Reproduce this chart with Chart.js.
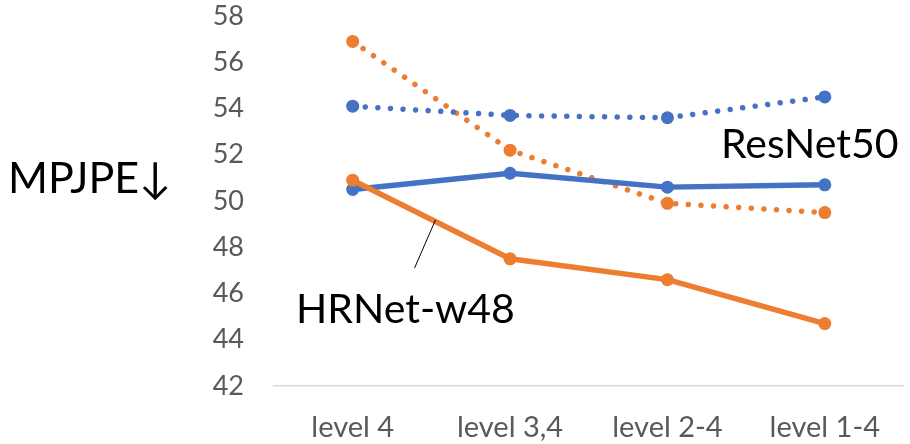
<!DOCTYPE html>
<html>
<head>
<meta charset="utf-8">
<script src="https://cdn.jsdelivr.net/npm/chart.js@4"></script>
<style>
  html, body { margin: 0; padding: 0; background: #fff; }
  #wrap { width: 910px; height: 444px; position: relative; }
</style>
</head>
<body>
<div id="wrap"><canvas id="c" width="910" height="444"></canvas></div>
<script>
// Feature levels used, and MPJPE per backbone (solid and dotted variants)
const categories = ['level 4', 'level 3,4', 'level 2-4', 'level 1-4'];
const resnetDotted = [54.1, 53.7, 53.6, 54.5];
const resnetSolid  = [50.5, 51.2, 50.6, 50.7];
const hrnetDotted  = [56.9, 52.2, 49.9, 49.5];
const hrnetSolid   = [50.9, 47.5, 46.6, 44.7];
const yTicks = [42, 44, 46, 48, 50, 52, 54, 56, 58];

const BLUE = '#4472C4';
const ORANGE = '#ED7D31';
const FONT = 'Lato, "Open Sans", "DejaVu Sans", sans-serif';

function lineSet(label, data, color, dotted, order) {
  return {
    label, data, order,
    borderColor: color,
    backgroundColor: color,
    borderWidth: dotted ? 5.5 : 5.5,
    borderDash: dotted ? [0.01, 12.6] : [],
    borderCapStyle: 'round',
    borderJoinStyle: 'round',
    pointRadius: 6.5,
    pointHoverRadius: 6.5,
    pointBorderWidth: 0,
    pointBackgroundColor: color,
    tension: 0,
    fill: false
  };
}

// Text labels and the leader line, placed in data coordinates
const annotations = {
  id: 'annotations',
  afterDatasetsDraw(chart) {
    const { ctx, scales: { x, y } } = chart;
    const px = v => x.getPixelForValue(0) + v * (x.getPixelForValue(1) - x.getPixelForValue(0));
    ctx.save();
    ctx.fillStyle = '#000';
    ctx.textBaseline = 'alphabetic';
    ctx.textAlign = 'left';
    ctx.font = '41px ' + FONT;
    ctx.fillText('ResNet50', px(2.34), y.getPixelForValue(51.86));
    ctx.fillText('HRNet-w48', px(-0.36), y.getPixelForValue(44.72));
    ctx.font = '43px ' + FONT;
    ctx.fillText('MPJPE\u2193', 8, y.getPixelForValue(50.35));
    ctx.strokeStyle = '#000';
    ctx.lineWidth = 1;
    ctx.beginPath();
    ctx.moveTo(px(0.526), y.getPixelForValue(49.18));
    ctx.lineTo(px(0.393), y.getPixelForValue(47.1));
    ctx.stroke();
    ctx.restore();
  }
};

new Chart(document.getElementById('c'), {
  type: 'line',
  data: {
    labels: categories,
    datasets: [
      lineSet('ResNet50 dotted', resnetDotted, BLUE, true, 3),
      lineSet('HRNet-w48 dotted', hrnetDotted, ORANGE, true, 4),
      lineSet('ResNet50 solid', resnetSolid, BLUE, false, 2),
      lineSet('HRNet-w48 solid', hrnetSolid, ORANGE, false, 1)
    ]
  },
  options: {
    responsive: false,
    animation: false,
    devicePixelRatio: 1,
    layout: { padding: { top: 16, right: 4, left: 0, bottom: 0 } },
    plugins: { legend: { display: false }, tooltip: { enabled: false } },
    scales: {
      x: {
        offset: true,
        grid: { display: false, drawTicks: false },
        border: { display: true, color: '#D9D9D9', width: 1.5 },
        ticks: { color: '#595959', font: { family: FONT, size: 29 }, padding: 24, maxRotation: 0, autoSkip: false },
        afterFit(s) { s.height = 58; s.paddingLeft = 0; s.paddingRight = 0; }
      },
      y: {
        min: 42, max: 58,
        afterBuildTicks(s) { s.ticks = yTicks.map(v => ({ value: v })); },
        grid: { display: false, drawTicks: false },
        border: { display: false },
        ticks: { color: '#595959', font: { family: FONT, size: 27 }, padding: 30 },
        afterFit(s) { s.width = 274; s.paddingTop = 0; s.paddingBottom = 0; }
      }
    }
  },
  plugins: [annotations]
});
</script>
</body>
</html>
